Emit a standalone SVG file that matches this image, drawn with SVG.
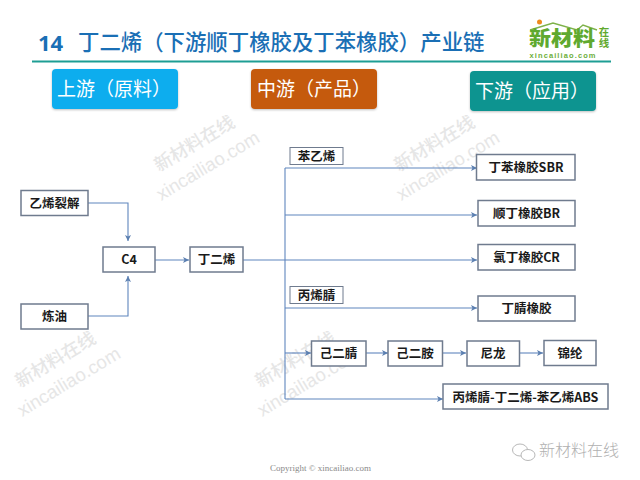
<svg xmlns="http://www.w3.org/2000/svg" width="640" height="480" viewBox="0 0 640 480">
<defs>
<marker id="arr" markerUnits="userSpaceOnUse" markerWidth="8" markerHeight="8" refX="6" refY="3.500" orient="auto"><path d="M0 0.500L6 3.500L0 6.500L1.500 3.500Z" fill="#5b7fb0"/></marker>
<filter id="sh" x="-5%" y="-10%" width="110%" height="125%"><feDropShadow dx="0" dy="1" stdDeviation="0.8" flood-color="#000" flood-opacity="0.25"/></filter>
<g id="wm"><text x="0" y="0" class="wa">新材料在线</text><text x="-13" y="26" class="wb">xincailiao.com</text></g>
</defs>
<style>
text{font-family:"Noto Sans CJK SC","Liberation Sans",sans-serif}
.wa{font-size:18px;fill:#e6e6e6;font-weight:500}
.wb{font-size:18.500px;fill:#e6e6e6;font-family:"Liberation Sans",sans-serif}
.n rect{fill:#fff;stroke:#6f7b8e;stroke-width:1.500}
.n text{font-size:12.500px;font-weight:700;fill:#1a1a1a;text-anchor:middle}
.h text{font-size:19px;fill:#fff}
.c path{fill:none;stroke:#5f86bd;stroke-width:1.100}
</style>
<rect width="640" height="480" fill="#fff"/>
<g id="watermarks">
<use href="#wm" transform="translate(159,172) rotate(-31)"/>
<use href="#wm" transform="translate(399,172) rotate(-31)"/>
<use href="#wm" transform="translate(20,388) rotate(-31)"/>
<use href="#wm" transform="translate(260,388) rotate(-31)"/>
</g>
<g id="title">
<text x="38" y="50.500" font-size="22" font-weight="700" fill="#1a6fb5" style="font-family:'Open Sans','Liberation Sans',sans-serif">14</text>
<text x="78" y="50" font-size="21.400" font-weight="500" fill="#1a6fb5">丁二烯（下游顺丁橡胶及丁苯橡胶）产业链</text>
<path d="M32 61.500H611" stroke="#1e9e94" stroke-width="2"/>
</g>
<g id="logo">
<circle cx="539.500" cy="22" r="2.500" fill="#ee8a1d"/>
<path d="M530 30L553 23L577 30L583 25L597 30" fill="none" stroke="#7fb24a" stroke-width="1.500"/>
<text x="529" y="46" font-size="20" font-weight="900" fill="#5fa92e" textLength="66" lengthAdjust="spacingAndGlyphs">新材料</text>
<text x="604" y="27" font-size="10.500" font-weight="700" fill="#5fa92e" style="writing-mode:vertical-rl">在线</text>
<text x="529.500" y="57.500" font-size="7.500" font-weight="700" fill="#6cae3a" textLength="66" style="font-family:'Liberation Sans',sans-serif">xincailiao.com</text>
</g>
<g id="head-up" class="h"><rect x="52" y="69" width="126" height="40" rx="4" fill="#0dadee" filter="url(#sh)"/><text x="57" y="96">上游（原料）</text></g>
<g id="head-mid" class="h"><rect x="251" y="69" width="126" height="40" rx="4" fill="#c55a11" filter="url(#sh)"/><text x="257" y="96">中游（产品）</text></g>
<g id="head-down" class="h"><rect x="470" y="71" width="126" height="40" rx="4" fill="#0b9490" filter="url(#sh)"/><text x="475" y="98">下游（应用）</text></g>
<g id="connectors" class="c">
<path d="M88 203H128V241" marker-end="url(#arr)"/>
<path d="M88 316H128V276" marker-end="url(#arr)"/>
<path d="M155 260H189" marker-end="url(#arr)"/>
<path d="M243 260H477" marker-end="url(#arr)"/>
<path d="M285 168V399"/>
<path d="M285 168H477" marker-end="url(#arr)"/>
<path d="M285 215H477" marker-end="url(#arr)"/>
<path d="M285 308H477" marker-end="url(#arr)"/>
<path d="M285 353H311" marker-end="url(#arr)"/>
<path d="M366 353H388" marker-end="url(#arr)"/>
<path d="M442 353H466" marker-end="url(#arr)"/>
<path d="M519 353H543" marker-end="url(#arr)"/>
<path d="M285 399H443" marker-end="url(#arr)"/>
</g>
<g id="n1" class="n"><rect x="21" y="190.500" width="67" height="25"/><text x="54.500" y="207.500">乙烯裂解</text></g>
<g id="n2" class="n"><rect x="21" y="304" width="67" height="25"/><text x="54.500" y="321">炼油</text></g>
<g id="n3" class="n"><rect x="103" y="247" width="52" height="25"/><text x="129" y="264">C4</text></g>
<g id="n4" class="n"><rect x="190" y="247" width="53" height="25"/><text x="216.500" y="264">丁二烯</text></g>
<g id="n5" class="n"><rect x="290" y="147.500" width="53" height="17" style="stroke-width:1"/><text x="316.500" y="160.500">苯乙烯</text></g>
<g id="n6" class="n"><rect x="290" y="286.500" width="53" height="17" style="stroke-width:1"/><text x="316.500" y="299.500">丙烯腈</text></g>
<g id="n7" class="n"><rect x="476.500" y="154.500" width="98.500" height="25.500"/><text x="526" y="172">丁苯橡胶SBR</text></g>
<g id="n8" class="n"><rect x="478" y="200.500" width="97" height="25.500"/><text x="526.500" y="218">顺丁橡胶BR</text></g>
<g id="n9" class="n"><rect x="478" y="244.500" width="97" height="25.500"/><text x="526.500" y="262">氯丁橡胶CR</text></g>
<g id="n10" class="n"><rect x="478" y="296" width="97" height="25"/><text x="526.500" y="313">丁腈橡胶</text></g>
<g id="n11" class="n"><rect x="311.500" y="341" width="54.500" height="25"/><text x="338.500" y="358">己二腈</text></g>
<g id="n12" class="n"><rect x="388" y="341" width="54.500" height="25"/><text x="415" y="358">己二胺</text></g>
<g id="n13" class="n"><rect x="467" y="341" width="52.500" height="25"/><text x="493" y="358">尼龙</text></g>
<g id="n14" class="n"><rect x="544" y="340.500" width="52" height="25"/><text x="570" y="357.500">锦纶</text></g>
<g id="n15" class="n"><rect x="443" y="384" width="165" height="25"/><text x="525.500" y="402">丙烯腈-丁二烯-苯乙烯ABS</text></g>
<g id="footer">
<text x="270" y="471" font-size="9" fill="#8a8a8a" style="font-family:'Liberation Serif',serif">Copyright © xincailiao.com</text>
<g fill="none" stroke="#b8b8b8" stroke-width="1"><ellipse cx="520" cy="450" rx="7.500" ry="6"/><ellipse cx="528" cy="455" rx="7" ry="5.500" fill="#fff"/></g>
<text x="539" y="456" font-size="16" font-weight="300" fill="#b0b0b0">新材料在线</text>
</g>
</svg>
